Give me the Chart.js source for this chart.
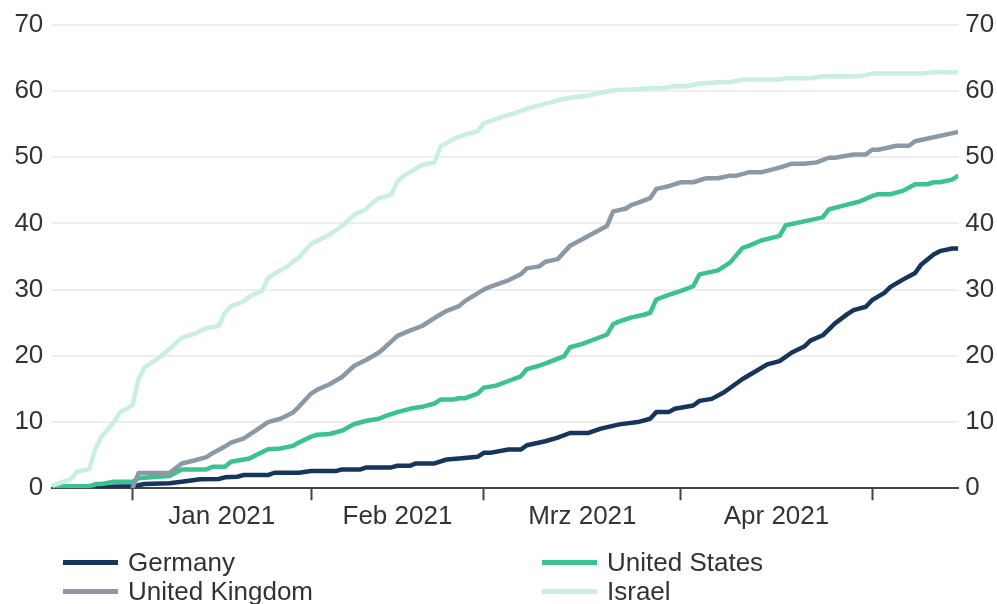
<!DOCTYPE html>
<html>
<head>
<meta charset="utf-8">
<script src="https://cdn.jsdelivr.net/npm/chart.js@4/dist/chart.umd.min.js"></script>
<style>
  html, body { margin: 0; padding: 0; background: #fff; overflow: hidden; }
  #wrap { position: relative; width: 997px; height: 604px; }
  #chart { position: absolute; left: 0; top: 0; }
  .legend-item {
    position: absolute; height: 30px; display: flex; align-items: center;
    font: 26px "Liberation Sans", Arial, sans-serif; color: #333; white-space: nowrap;
  }
  .legend-item .swatch { width: 55px; height: 5px; margin-right: 10px; }
</style>
</head>
<body>
<div id="wrap">
  <canvas id="chart" width="997" height="604"></canvas>
  <div id="legend"></div>
</div>
<script>
// Vaccinations per 100 people, by reporting row (one row per reported day)
const countries = ['Germany', 'United States', 'United Kingdom', 'Israel'];

const germanyRows = [7,13,15,19,21,24,27,28,30,31,35,36,40,42,46,47,50,51,55,56,58,59,62,64,66,69,70,71,74,76,77,80,82,84,87,89,92,95,97,98,100,101,104,105,107,109,112,114,116,118,120,122,123,125,126,127,129,130,132,133,135,136,138,140,141,143,144,146,147];
const germanyValues = [0.2,0.3,0.65,0.75,1.0,1.35,1.4,1.65,1.75,2.0,2.0,2.35,2.35,2.6,2.6,2.85,2.85,3.15,3.15,3.4,3.4,3.75,3.75,4.35,4.5,4.75,5.35,5.35,5.85,5.85,6.5,7.1,7.65,8.35,8.35,9.0,9.65,10.0,10.5,11.5,11.5,12.0,12.5,13.2,13.5,14.5,16.5,17.6,18.7,19.2,20.5,21.4,22.3,23.1,24.0,24.9,26.3,26.9,27.4,28.4,29.5,30.4,31.5,32.5,33.8,35.3,35.8,36.2,36.2];

const usRows = [0,6,7,8,10,13,14,17,19,21,25,26,28,29,32,33,35,37,39,40,42,43,45,47,49,51,53,54,56,58,60,62,63,65,66,67,69,70,72,74,76,77,79,81,83,84,86,88,90,91,92,94,96,97,98,100,102,104,105,108,110,112,113,115,118,119,122,125,126,128,131,133,134,136,138,140,142,143,144,146,147];
const usValues = [0.3,0.3,0.65,0.65,1.0,1.0,1.5,1.75,1.85,2.85,2.85,3.25,3.25,4.0,4.5,5.0,5.9,6.0,6.4,6.9,7.8,8.1,8.2,8.7,9.7,10.2,10.5,10.9,11.5,12.0,12.3,12.8,13.4,13.4,13.6,13.6,14.3,15.2,15.5,16.2,16.9,18.0,18.5,19.2,19.9,21.3,21.8,22.5,23.2,24.8,25.2,25.8,26.2,26.5,28.5,29.2,29.8,30.5,32.3,32.9,34.1,36.3,36.6,37.4,38.1,39.7,40.3,40.9,42.1,42.6,43.3,44.1,44.4,44.4,44.9,45.9,45.9,46.2,46.2,46.6,47.2];

const ukRows = [13,14,19,21,23,25,26,28,29,31,33,35,37,39,40,42,43,45,47,49,51,53,54,56,58,60,62,64,66,67,70,71,74,76,77,79,80,82,84,86,88,90,91,93,94,95,97,98,100,102,104,106,108,110,111,113,115,118,120,122,124,126,127,130,132,133,134,137,139,140,147];
const ukValues = [0,2.3,2.3,3.75,4.2,4.7,5.3,6.3,6.9,7.5,8.7,10.0,10.5,11.4,12.3,14.3,14.9,15.7,16.8,18.5,19.4,20.5,21.3,23.0,23.8,24.5,25.7,26.8,27.5,28.3,30.0,30.4,31.4,32.3,33.2,33.5,34.2,34.6,36.6,37.6,38.6,39.6,41.8,42.2,42.8,43.1,43.8,45.2,45.6,46.2,46.2,46.8,46.8,47.2,47.2,47.7,47.7,48.4,49.0,49.0,49.2,49.9,49.9,50.4,50.4,51.1,51.1,51.7,51.7,52.4,53.8];

const israelRows = [0,3,4,6,7,8,10,11,13,14,15,17,19,21,23,25,27,28,29,31,32,34,35,36,38,39,40,42,45,47,49,51,52,53,55,56,57,58,60,62,63,65,67,69,70,71,73,75,77,79,81,83,87,88,91,94,97,99,101,103,105,108,110,112,118,119,123,125,131,133,141,143,147];
const israelValues = [0.4,1.4,2.5,2.9,6.0,7.8,10.0,11.5,12.5,16.5,18.3,19.5,21.0,22.7,23.3,24.2,24.5,26.5,27.5,28.2,29.0,29.8,31.7,32.4,33.4,34.2,34.8,36.9,38.3,39.6,41.3,42.2,43.1,43.8,44.3,46.3,47.2,47.7,48.8,49.2,51.6,52.7,53.4,53.9,55.1,55.4,56.1,56.6,57.3,57.8,58.3,58.8,59.3,59.5,60.1,60.2,60.4,60.4,60.7,60.7,61.1,61.3,61.3,61.7,61.7,61.9,61.9,62.2,62.2,62.6,62.6,62.8,62.8];

// First reporting row of each month (Jan .. May) and the month labels
const monthStartRows = [13, 42, 70, 102, 133];
const monthLabels = ['Jan 2021', 'Feb 2021', 'Mrz 2021', 'Apr 2021'];
const lastRow = 147;

const yMin = 0, yMax = 70, yStep = 10;

const colors = ['#15355a', '#3bc38f', '#8b99a7', '#c8efe0'];
const FONT = '"Liberation Sans", Arial, sans-serif';
const TEXT = '#333333';

function zip(rows, values) {
  return rows.map((r, i) => ({ x: r, y: values[i] }));
}
const seriesData = [
  zip(germanyRows, germanyValues),
  zip(usRows, usValues),
  zip(ukRows, ukValues),
  zip(israelRows, israelValues)
];

// label ticks sit midway between month boundaries
const labelRows = monthLabels.map((_, i) => (monthStartRows[i] + monthStartRows[i + 1]) / 2);

const datasets = countries.map((name, i) => ({
  label: name,
  data: seriesData[i],
  borderColor: colors[i],
  backgroundColor: colors[i],
  borderWidth: 4.5,
  pointRadius: 0,
  pointHoverRadius: 0,
  tension: 0,
  borderJoinStyle: 'round',
  borderCapStyle: 'butt',
  fill: false,
  order: countries.length - 1 - i,
  yAxisID: 'y'
}));

const CHART_TOP = 22.3, CHART_BOTTOM = 488.3, CHART_LEFT = 52.3, CHART_RIGHT = 958.3;
const X_AXIS_H = 50;

const chart = new Chart(document.getElementById('chart'), {
  type: 'line',
  data: { datasets },
  options: {
    responsive: false,
    animation: false,
    events: [],
    layout: { padding: { top: CHART_TOP, bottom: 604 - CHART_BOTTOM - X_AXIS_H, left: 0, right: 0 } },
    plugins: { legend: { display: false }, tooltip: { enabled: false } },
    scales: {
      x: {
        type: 'linear',
        min: 0,
        max: lastRow,
        afterBuildTicks: (scale) => {
          const t = monthStartRows.map(v => ({ value: v }))
            .concat(labelRows.map(v => ({ value: v })));
          t.sort((a, b) => a.value - b.value);
          scale.ticks = t;
        },
        afterFit: (scale) => { scale.height = X_AXIS_H; },
        ticks: {
          autoSkip: false,
          maxRotation: 0,
          minRotation: 0,
          padding: 1,
          color: TEXT,
          font: { family: FONT, size: 26 },
          callback: (value) => {
            const k = labelRows.indexOf(value);
            return k >= 0 ? monthLabels[k] : '';
          }
        },
        grid: {
          drawOnChartArea: false,
          drawTicks: true,
          tickLength: 12,
          tickWidth: 2,
          tickColor: (ctx) => (ctx.tick && monthStartRows.includes(ctx.tick.value)) ? '#444444' : 'rgba(0,0,0,0)'
        },
        border: { display: true, color: '#444444', width: 2 }
      },
      y: {
        position: 'left',
        min: yMin,
        max: yMax,
        afterFit: (scale) => { scale.width = CHART_LEFT; },
        ticks: {
          stepSize: yStep,
          padding: 9,
          color: TEXT,
          font: { family: FONT, size: 26 }
        },
        grid: {
          drawTicks: false,
          lineWidth: 2,
          color: (ctx) => (ctx.tick && ctx.tick.value === 0) ? 'rgba(0,0,0,0)' : '#eeeeee'
        },
        border: { display: false }
      },
      y2: {
        position: 'right',
        min: yMin,
        max: yMax,
        afterFit: (scale) => { scale.width = 997 - CHART_RIGHT; },
        ticks: {
          stepSize: yStep,
          padding: 7,
          color: TEXT,
          font: { family: FONT, size: 26 }
        },
        grid: { display: false, drawTicks: false },
        border: { display: false }
      }
    }
  }
});

// Two-column legend below the chart
const legendEl = document.getElementById('legend');
const legendCols = [63, 542];
const legendRowCenters = [562, 591];
chart.data.datasets.forEach((ds, i) => {
  const item = document.createElement('div');
  item.className = 'legend-item';
  item.style.left = legendCols[i % 2] + 'px';
  item.style.top = (legendRowCenters[Math.floor(i / 2)] - 15) + 'px';
  const sw = document.createElement('span');
  sw.className = 'swatch';
  sw.style.background = ds.borderColor;
  const tx = document.createElement('span');
  tx.textContent = ds.label;
  item.appendChild(sw);
  item.appendChild(tx);
  legendEl.appendChild(item);
});
</script>
</body>
</html>
